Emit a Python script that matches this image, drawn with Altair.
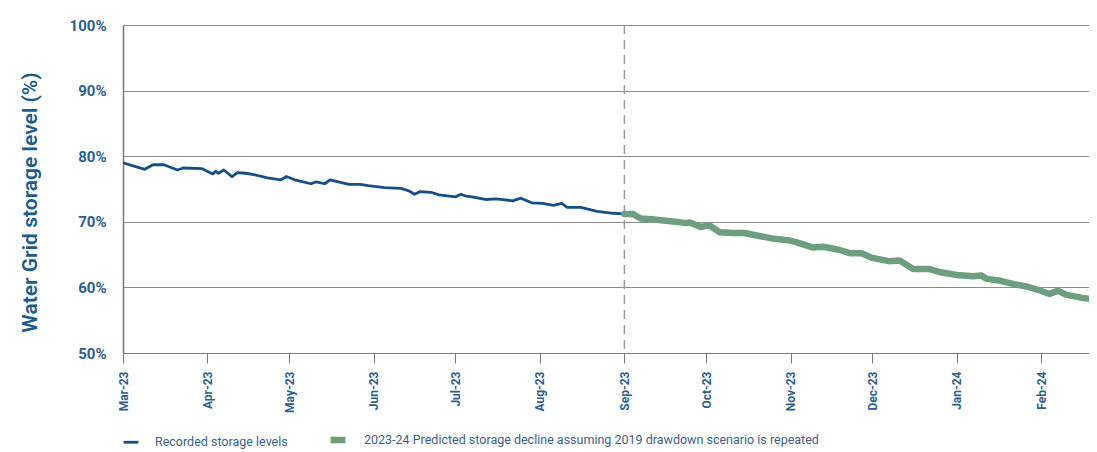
import altair as alt
import pandas as pd

# Recorded storage levels (%)
rec_dates = ["2023-03-01", "2023-03-09", "2023-03-12", "2023-03-16", "2023-03-21", "2023-03-23",
             "2023-03-30", "2023-04-03", "2023-04-04", "2023-04-05", "2023-04-07", "2023-04-10",
             "2023-04-12", "2023-04-15", "2023-04-18", "2023-04-23", "2023-04-28", "2023-04-30",
             "2023-05-03", "2023-05-05", "2023-05-09", "2023-05-11", "2023-05-14", "2023-05-16",
             "2023-05-19", "2023-05-23", "2023-05-27", "2023-05-30", "2023-06-05", "2023-06-11",
             "2023-06-14", "2023-06-16", "2023-06-18", "2023-06-22", "2023-06-25", "2023-07-01",
             "2023-07-03", "2023-07-05", "2023-07-07", "2023-07-12", "2023-07-16", "2023-07-22",
             "2023-07-25", "2023-07-29", "2023-08-02", "2023-08-06", "2023-08-09", "2023-08-11",
             "2023-08-16", "2023-08-22", "2023-08-28", "2023-09-01"]
rec_values = [79.0, 78.0, 78.7, 78.7, 77.9, 78.2,
              78.1, 77.3, 77.7, 77.4, 77.9, 76.9,
              77.5, 77.4, 77.2, 76.7, 76.4, 76.9,
              76.4, 76.2, 75.8, 76.1, 75.8, 76.4,
              76.1, 75.7, 75.7, 75.5, 75.2, 75.1,
              74.7, 74.2, 74.6, 74.5, 74.1, 73.8,
              74.2, 73.9, 73.8, 73.4, 73.5, 73.2,
              73.6, 72.9, 72.8, 72.5, 72.8, 72.2,
              72.2, 71.6, 71.3, 71.2]

# Predicted storage decline (%)
pred_dates = ["2023-09-01", "2023-09-04", "2023-09-07", "2023-09-11", "2023-09-18", "2023-09-24",
              "2023-09-25", "2023-09-29", "2023-10-02", "2023-10-06", "2023-10-11", "2023-10-15",
              "2023-10-21", "2023-10-26", "2023-10-31", "2023-11-03", "2023-11-09", "2023-11-13",
              "2023-11-19", "2023-11-23", "2023-11-27", "2023-12-01", "2023-12-07", "2023-12-11",
              "2023-12-16", "2023-12-22", "2023-12-26", "2024-01-01", "2024-01-07", "2024-01-10",
              "2024-01-12", "2024-01-17", "2024-01-22", "2024-01-27", "2024-01-31", "2024-02-04",
              "2024-02-07", "2024-02-10", "2024-02-16", "2024-02-20", "2024-02-22"]
pred_values = [71.2, 71.2, 70.5, 70.4, 70.1, 69.8,
               69.9, 69.2, 69.5, 68.4, 68.3, 68.3,
               67.8, 67.4, 67.2, 66.9, 66.1, 66.2,
               65.7, 65.2, 65.2, 64.5, 64.0, 64.1,
               62.8, 62.8, 62.3, 61.9, 61.7, 61.8,
               61.3, 61.0, 60.5, 60.1, 59.6, 59.0,
               59.5, 58.9, 58.4, 58.2, 57.6]

series_names = ["Recorded storage levels",
                "2023-24 Predicted storage decline assuming 2019 drawdown scenario is repeated"]
series_colors = ["#154f85", "#6e9e80"]
series_widths = [2.8, 6.5]

month_ticks = ["2023-03-01", "2023-04-01", "2023-05-01", "2023-06-01", "2023-07-01", "2023-08-01",
               "2023-09-01", "2023-10-01", "2023-11-01", "2023-12-01", "2024-01-01", "2024-02-01"]
y_ticks = [50, 60, 70, 80, 90, 100]
split_date = ["2023-09-01"]

x_domain = ["2023-03-01", "2024-02-18T12:00:00"]

rec = pd.DataFrame({"date": rec_dates, "value": rec_values, "series": series_names[0]})
pred = pd.DataFrame({"date": pred_dates, "value": pred_values, "series": series_names[1]})
lines = pd.concat([rec, pred], ignore_index=True)
split = pd.DataFrame({"date": split_date})

blue_lab = "#2e5e8e"

x_enc = alt.X("date:T", scale=alt.Scale(domain=x_domain),
              axis=alt.Axis(values=month_ticks, format="%b-%y", labelAngle=270, grid=False,
                            tickSize=10, tickColor="#777777", domainColor="#777777",
                            labelColor=blue_lab, labelFont="Roboto", labelFontSize=12,
                            labelFontWeight="bold", labelPadding=8, title=None))
y_enc = alt.Y("value:Q", scale=alt.Scale(domain=[50, 100]),
              axis=alt.Axis(values=y_ticks, labelExpr="datum.value + '%'", ticks=False,
                            grid=True, gridColor="#8c8c8c", domainColor="#777777",
                            domainWidth=1.5,
                            labelColor=blue_lab, labelFont="Roboto", labelFontSize=15,
                            labelFontWeight="bold", labelPadding=17,
                            title="Water Grid storage level (%)", titleFont="Roboto",
                            titleFontSize=21, titleFontWeight=600, titleColor="#1d5b8c",
                            titleAngle=270, titleX=-93, titleY=177, titleAlign="center",
                            titleBaseline="middle"))

legend = alt.Legend(orient="none", legendX=-1, legendY=404, direction="horizontal", title=None,
                    symbolType="stroke", symbolSize=220,
                    labelFont="Roboto", labelFontSize=12.5, labelLimit=700,
                    labelColor="#3d5f86", labelOffset=15, columnPadding=29)

rule = alt.Chart(split).mark_rule(color="#9a9a9a", strokeWidth=1.5, strokeDash=[9, 6]).encode(
    x=alt.X("date:T", scale=alt.Scale(domain=x_domain))
)

line = alt.Chart(lines).mark_line(strokeJoin="round", strokeCap="round", clip=True).encode(
    x=x_enc, y=y_enc,
    color=alt.Color("series:N", scale=alt.Scale(domain=series_names, range=series_colors), legend=legend),
    strokeWidth=alt.StrokeWidth("series:N", scale=alt.Scale(domain=series_names, range=series_widths), legend=legend),
    order=alt.Order("series:N", sort="ascending"),
)

chart = alt.layer(rule, line).properties(
    width=966, height=328,
    autosize=alt.AutoSizeParams(type="none"),
    padding={"left": 115, "top": 17, "right": 0, "bottom": 96},
).configure_view(stroke=None).configure_axis(gridWidth=1)

chart.save("out.html", embed_options={"renderer": "svg", "actions": False})
